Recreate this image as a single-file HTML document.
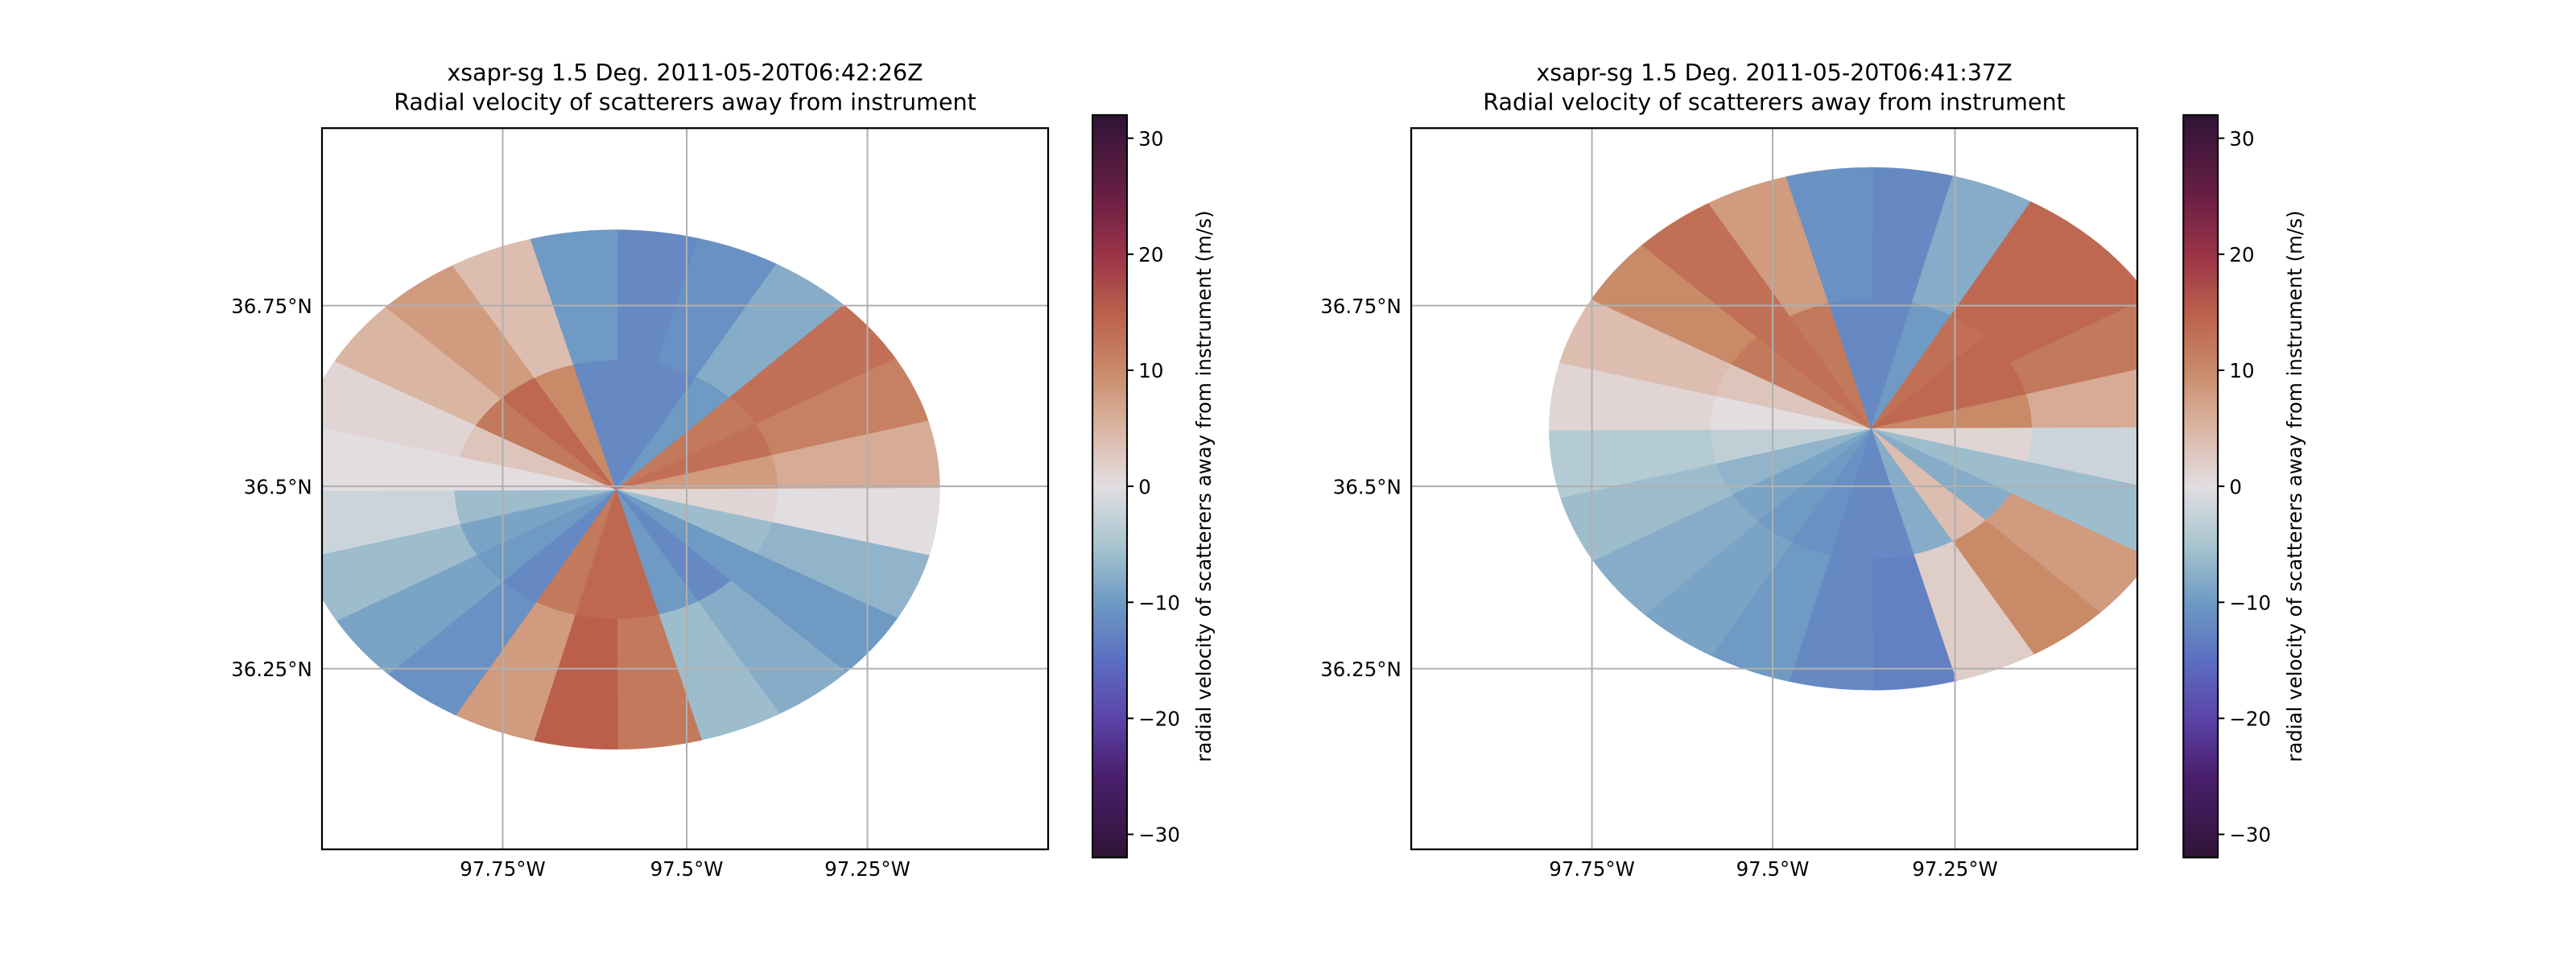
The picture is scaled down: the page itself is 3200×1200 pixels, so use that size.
<!DOCTYPE html>
<html><head><meta charset="utf-8"><style>
html,body{margin:0;padding:0;background:#fff;}
svg{display:block;font-family:"DejaVu Sans","Liberation Sans",sans-serif;}
</style></head><body>
<svg id="fig" width="3200" height="1200" viewBox="0 0 1568 588" xmlns="http://www.w3.org/2000/svg">
<defs>
<clipPath id="clipL"><rect x="196" y="78" width="442" height="439"/></clipPath>
<clipPath id="clipR"><rect x="859" y="78" width="442" height="439"/></clipPath>
<linearGradient id="cmapGrad" x1="0" y1="1" x2="0" y2="0"></linearGradient>
</defs>
<rect width="1568" height="588" fill="#fff"/>
</svg>
<script>
// ---- data ----
const azimuthStep = 15; // degrees per sector
const leftInner = [-12,-12,-10,12,13,8,1,-6,-10,-12,-10,14,14,12,-12,-10,-9,-6,0,3,12,14,10,-12];
const leftOuter = [-12,-11,-8,13,11,6,0,-7,-10,-8,-6,12,15,8,-11,-9,-6,-2,0,1,5,8,4,-10];
const rightInner = [-12,-10,13,14,14,10,1,-6,-8,4,-8,-12,-12,-11,-10,-9,-7,-3,0,3,12,13,12,-12];
const rightOuter = [-12,-8,14,14,12,6,-2,-6,8,10,2,-13,-12,-10,-9,-8,-6,-4,1,4,10,13,8,-11];
const colorbarTicks = [30,20,10,0,-10,-20,-30];
const lonTicks = ["97.75°W","97.5°W","97.25°W"];
const latTicks = ["36.75°N","36.5°N","36.25°N"];
const cmapVals = [-32,-25,-20,-15,-10,-5,0,5,10,15,20,25,32];
const cmapCols = ["#2f1436","#4a1f6e","#5b44a8","#5b6fc2","#6e9ac3","#a9c6cf","#e2dde1","#dab5a2","#c98a68","#bb5f4b","#9a3448","#6a1f45","#2f1436"];

const NS="http://www.w3.org/2000/svg";
const svg=document.getElementById('fig');
function mk(tag,attrs,parent){const e=document.createElementNS(NS,tag);for(const k in attrs)e.setAttribute(k,attrs[k]);(parent||svg).appendChild(e);return e;}
function hex2rgb(h){return [1,3,5].map(i=>parseInt(h.substr(i,2),16));}
function cmap(v){v=Math.max(cmapVals[0],Math.min(cmapVals[cmapVals.length-1],v));
 for(let i=0;i<cmapVals.length-1;i++){if(v<=cmapVals[i+1]){const t=(v-cmapVals[i])/(cmapVals[i+1]-cmapVals[i]);const a=hex2rgb(cmapCols[i]),b=hex2rgb(cmapCols[i+1]);return 'rgb('+a.map((x,j)=>Math.round(x+(b[j]-x)*t)).join(',')+')';}}
 return cmapCols[cmapCols.length-1];}

const grad=document.getElementById('cmapGrad');
cmapVals.forEach((v,i)=>{mk('stop',{offset:((v+32)/64).toFixed(4),'stop-color':cmapCols[i]},grad);});

function panel(o){
 const {ax,ay,aw,ah,clip,cx,cy,rx,ry,inner,outer,gx,gy,cbx,title,name}=o;
 const g=mk('g',{'clip-path':'url(#'+clip+')'});
 
 
 const rings=[[0,0.5,inner],[0.5,1,outer]];
 rings.forEach(([r0,r1,arr])=>{
  arr.forEach((v,i)=>{
   const a0=(i*azimuthStep-0.3)*Math.PI/180,a1=((i+1)*azimuthStep+0.3)*Math.PI/180;
   const p=(r,a)=>[(cx+rx*r*Math.sin(a)).toFixed(2),(cy-ry*r*Math.cos(a)).toFixed(2)];
   const A=p(r0,a0),B=p(r1,a0),C=p(r1,a1),D=p(r0,a1);
   const d='M'+A+' L'+B+' A'+(rx*r1)+' '+(ry*r1)+' 0 0 1 '+C+' L'+D+(r0>0?' A'+(rx*r0)+' '+(ry*r0)+' 0 0 0 '+A:'')+'Z';
   const s=mk('path',{d:d,fill:cmap(v),stroke:cmap(v),'stroke-width':0.4},g);
   
   
  });
 });
 gx.forEach((x,i)=>{const l=mk('line',{x1:x,y1:ay,x2:x,y2:ay+ah,stroke:'#b0b0b0','stroke-width':1});
  
  const t=mk('text',{x:x,y:ay+ah+16,'font-size':12,'text-anchor':'middle',fill:'#000'});t.textContent=lonTicks[i];
  });
 gy.forEach((y,i)=>{const l=mk('line',{x1:ax,y1:y,x2:ax+aw,y2:y,stroke:'#b0b0b0','stroke-width':1});
  
  const t=mk('text',{x:ax-6,y:y+4.5,'font-size':12,'text-anchor':'end',fill:'#000'});t.textContent=latTicks[i];
  });
 const fr=mk('rect',{x:ax,y:ay,width:aw,height:ah,fill:'none',stroke:'#000','stroke-width':1.1});
 
 const tc=ax+aw/2;
 const t1=mk('text',{x:tc,y:49,'font-size':14,'text-anchor':'middle'});t1.textContent=title;
 
 const t2=mk('text',{x:tc,y:67,'font-size':14,'text-anchor':'middle'});t2.textContent='Radial velocity of scatterers away from instrument';
 
 const cy0=70,cy1=522,cw=21;
 const cb=mk('rect',{x:cbx,y:cy0,width:cw,height:cy1-cy0,fill:'url(#cmapGrad)',stroke:'#000','stroke-width':1});
 
 const yv=v=>cy0+(32-v)/64*(cy1-cy0);
 colorbarTicks.forEach(v=>{const y=yv(v);
  const tk=mk('line',{x1:cbx+cw,y1:y,x2:cbx+cw+4,y2:y,stroke:'#000','stroke-width':1});
  
  const t=mk('text',{x:cbx+cw+7,y:y+4.5,'font-size':12});t.textContent=(v<0?'\u2212'+(-v):String(v));
  });
 const lx=cbx+72,ly=(cy0+cy1)/2;
 const lb=mk('text',{x:lx,y:ly,'font-size':12,'text-anchor':'middle',transform:'rotate(-90 '+lx+' '+ly+')'});
 lb.textContent='radial velocity of scatterers away from instrument (m/s)';
 
}
panel({name:'left',ax:196,ay:78,aw:442,ah:439,clip:'clipL',cx:375,cy:298,rx:197,ry:158,inner:leftInner,outer:leftOuter,gx:[306,418,528],gy:[186,296,407],cbx:665,title:'xsapr-sg 1.5 Deg. 2011-05-20T06:42:26Z'});
panel({name:'right',ax:859,ay:78,aw:442,ah:439,clip:'clipR',cx:1139,cy:261,rx:196,ry:159,inner:rightInner,outer:rightOuter,gx:[969,1079,1190],gy:[186,296,407],cbx:1329,title:'xsapr-sg 1.5 Deg. 2011-05-20T06:41:37Z'});
</script>
</body></html>
